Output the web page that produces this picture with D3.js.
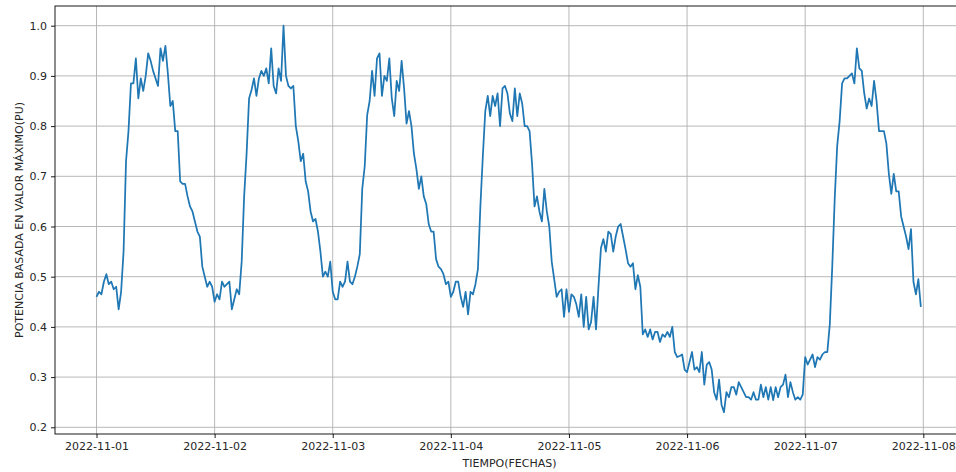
<!DOCTYPE html>
<html>
<head>
<meta charset="utf-8">
<script src="https://cdn.jsdelivr.net/npm/d3@7"></script>
<style>
  body { margin: 0; background: #fff; }
  svg { display: block; font-family: "DejaVu Sans", sans-serif; }
</style>
</head>
<body>
<div id="chart"></div>
<script>
// x tick labels (one per day) and y ticks
const tickLabels = ["2022-11-01", "2022-11-02", "2022-11-03", "2022-11-04",
                    "2022-11-05", "2022-11-06", "2022-11-07", "2022-11-08"];
const yTicks = [0.2, 0.3, 0.4, 0.5, 0.6, 0.7, 0.8, 0.9, 1.0];

// power in p.u., one value every 30 minutes, one array per day
const nov01 = [0.46, 0.47, 0.465, 0.49, 0.505, 0.485, 0.49, 0.475, 0.48, 0.435, 0.47, 0.55,
               0.73, 0.79, 0.885, 0.885, 0.935, 0.855, 0.895, 0.87, 0.9, 0.945, 0.93, 0.91,
               0.895, 0.88, 0.955, 0.93, 0.96, 0.905, 0.84, 0.85, 0.79, 0.79, 0.69, 0.685,
               0.685, 0.66, 0.64, 0.63, 0.61, 0.59, 0.58, 0.52, 0.5, 0.48, 0.49, 0.48];
const nov02 = [0.45, 0.465, 0.455, 0.49, 0.48, 0.485, 0.49, 0.435, 0.455, 0.475, 0.465, 0.53,
               0.66, 0.745, 0.855, 0.872, 0.895, 0.86, 0.895, 0.91, 0.9, 0.915, 0.885, 0.955,
               0.88, 0.865, 0.915, 0.89, 1.0, 0.9, 0.88, 0.875, 0.88, 0.8, 0.77, 0.73,
               0.745, 0.69, 0.67, 0.63, 0.61, 0.615, 0.59, 0.55, 0.5, 0.51, 0.5, 0.53];
const nov03 = [0.47, 0.455, 0.455, 0.49, 0.48, 0.49, 0.53, 0.49, 0.485, 0.5, 0.52, 0.545,
               0.675, 0.72, 0.822, 0.85, 0.91, 0.86, 0.935, 0.945, 0.86, 0.9, 0.89, 0.935,
               0.855, 0.82, 0.89, 0.87, 0.93, 0.875, 0.805, 0.83, 0.8, 0.745, 0.715, 0.675,
               0.7, 0.66, 0.645, 0.605, 0.59, 0.59, 0.535, 0.52, 0.515, 0.505, 0.485, 0.49];
const nov04 = [0.46, 0.47, 0.49, 0.49, 0.46, 0.44, 0.47, 0.425, 0.47, 0.465, 0.485, 0.515,
               0.64, 0.74, 0.83, 0.86, 0.82, 0.86, 0.84, 0.865, 0.8, 0.875, 0.88, 0.865,
               0.825, 0.81, 0.875, 0.82, 0.865, 0.845, 0.8, 0.8, 0.79, 0.725, 0.64, 0.66,
               0.63, 0.61, 0.675, 0.63, 0.6, 0.53, 0.495, 0.46, 0.47, 0.475, 0.42, 0.475];
const nov05 = [0.43, 0.465, 0.46, 0.445, 0.42, 0.465, 0.4, 0.46, 0.395, 0.41, 0.46, 0.395,
               0.48, 0.557, 0.575, 0.55, 0.59, 0.585, 0.55, 0.58, 0.6, 0.605, 0.58, 0.555,
               0.527, 0.52, 0.527, 0.475, 0.503, 0.48, 0.385, 0.395, 0.38, 0.395, 0.375, 0.39,
               0.39, 0.37, 0.385, 0.38, 0.39, 0.38, 0.4, 0.35, 0.34, 0.342, 0.345, 0.315];
const nov06 = [0.31, 0.33, 0.35, 0.315, 0.32, 0.31, 0.35, 0.285, 0.325, 0.33, 0.315, 0.27,
               0.255, 0.295, 0.245, 0.23, 0.27, 0.26, 0.28, 0.28, 0.265, 0.29, 0.28, 0.27,
               0.26, 0.26, 0.255, 0.27, 0.255, 0.255, 0.285, 0.26, 0.28, 0.255, 0.28, 0.254,
               0.28, 0.26, 0.28, 0.285, 0.305, 0.26, 0.29, 0.27, 0.255, 0.26, 0.255, 0.265];
const nov07 = [0.34, 0.325, 0.335, 0.345, 0.32, 0.34, 0.335, 0.345, 0.35, 0.35, 0.405, 0.52,
               0.655, 0.76, 0.81, 0.885, 0.895, 0.895, 0.9, 0.905, 0.885, 0.955, 0.915, 0.91,
               0.865, 0.835, 0.855, 0.84, 0.89, 0.85, 0.79, 0.79, 0.79, 0.765, 0.705, 0.665,
               0.705, 0.67, 0.67, 0.62, 0.6, 0.58, 0.555, 0.595, 0.49, 0.465, 0.495, 0.44];

const days = [nov01, nov02, nov03, nov04, nov05, nov06, nov07];
const stepMs = 30 * 60 * 1000;
const parseDay = d3.utcParse("%Y-%m-%d");
const t0 = parseDay(tickLabels[0]);
const series = days.flat().map((v, i) => ({ t: new Date(+t0 + i * stepMs), v }));

const W = 956, H = 472;
const box = { left: 55, right: 964, top: 6, bottom: 434 };

const svg = d3.select("#chart").append("svg")
    .attr("width", W)
    .attr("height", H);

const tickDates = tickLabels.map(parseDay);
const x = d3.scaleUtc()
    .domain([tickDates[0], tickDates[tickDates.length - 1]])
    .range([96.5, 923.3]);
const y = d3.scaleLinear()
    .domain([0.2, 1.0])
    .range([427.3, 25.7]);

// grid
const grid = svg.append("g").attr("stroke", "#b0b0b0").attr("stroke-width", 0.9);
grid.selectAll("line.gx").data(tickDates).enter().append("line")
    .attr("x1", d => x(d)).attr("x2", d => x(d))
    .attr("y1", box.top).attr("y2", box.bottom);
grid.selectAll("line.gy").data(yTicks).enter().append("line")
    .attr("x1", box.left).attr("x2", box.right)
    .attr("y1", d => y(d)).attr("y2", d => y(d));

// series
const line = d3.line().x(d => x(d.t)).y(d => y(d.v));
svg.append("path")
    .datum(series)
    .attr("fill", "none")
    .attr("stroke", "#1f77b4")
    .attr("stroke-width", 1.75)
    .attr("stroke-linejoin", "round")
    .attr("stroke-linecap", "butt")
    .attr("d", line);

// axes
const xAxis = d3.axisBottom(x)
    .tickValues(tickDates)
    .tickFormat(d3.utcFormat("%Y-%m-%d"))
    .tickSizeInner(4).tickSizeOuter(0).tickPadding(4);
const yAxis = d3.axisLeft(y)
    .tickValues(yTicks)
    .tickFormat(d3.format(".1f"))
    .tickSizeInner(4).tickSizeOuter(0).tickPadding(4);

const gx = svg.append("g").attr("transform", `translate(0,${box.bottom})`).call(xAxis);
const gy = svg.append("g").attr("transform", `translate(${box.left},0)`).call(yAxis);
[gx, gy].forEach(g => {
    g.select(".domain").remove();
    g.selectAll(".tick line").attr("stroke", "#000").attr("stroke-width", 0.9);
    g.selectAll(".tick text")
        .attr("fill", "#262626")
        .attr("font-size", 11)
        .attr("font-family", "DejaVu Sans, sans-serif");
});

// spines
svg.append("rect")
    .attr("x", box.left).attr("y", box.top)
    .attr("width", box.right - box.left).attr("height", box.bottom - box.top)
    .attr("fill", "none").attr("stroke", "#000").attr("stroke-width", 0.9);

// axis labels
svg.append("text")
    .attr("x", 509.5).attr("y", 467)
    .attr("text-anchor", "middle")
    .attr("font-size", 11)
    .attr("fill", "#262626")
    .text("TIEMPO(FECHAS)");
svg.append("text")
    .attr("transform", `translate(23,${(box.top + box.bottom) / 2}) rotate(-90)`)
    .attr("text-anchor", "middle")
    .attr("font-size", 11)
    .attr("fill", "#262626")
    .text("POTENCIA BASADA EN VALOR MÁXIMO(PU)");
</script>
</body>
</html>
